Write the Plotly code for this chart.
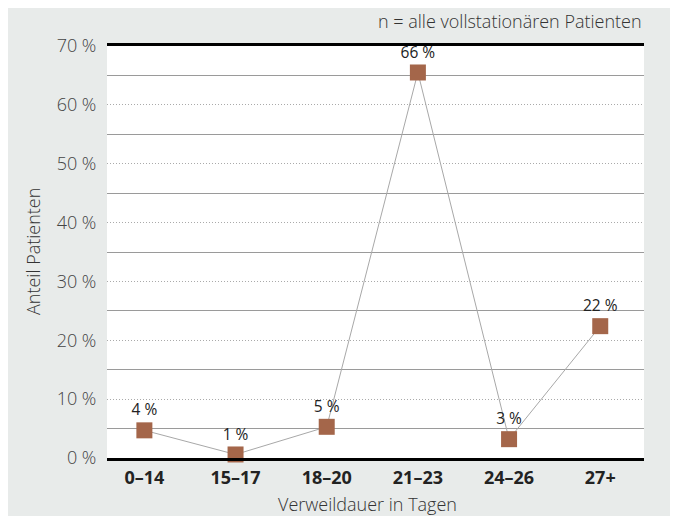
import plotly.graph_objects as go

categories = ["0–14", "15–17", "18–20", "21–23", "24–26", "27+"]
values = [4.7, 0.6, 5.3, 65.5, 3.2, 22.4]
labels = ["4 %", "1 %", "5 %", "66 %", "3 %", "22 %"]
y_ticks = [0, 10, 20, 30, 40, 50, 60, 70]
y_ticktext = [f"{v} %" for v in y_ticks]
y_minor = [5, 15, 25, 35, 45, 55, 65]

FONT = "Open Sans"

fig = go.Figure()
fig.add_trace(go.Scatter(
    x=list(range(len(categories))), y=values,
    mode="lines+markers+text",
    line=dict(color="#a8a8a8", width=1),
    marker=dict(symbol="square", size=16, color="#a4664a"),
    text=labels, textposition="top center",
    textfont=dict(family=FONT, size=15.5, color="#222222"),
    cliponaxis=False, showlegend=False,
))

fig.update_layout(
    width=678, height=516,
    paper_bgcolor="#e8ebea", plot_bgcolor="#ffffff",
    margin=dict(l=99, r=42, t=38, b=66, autoexpand=False),
    font=dict(family=FONT),
    xaxis=dict(
        range=[-0.41, 5.48], automargin=False,
        tickvals=list(range(len(categories))), ticktext=categories,
        tickfont=dict(family=FONT, size=18, color="#222222", weight="bold"),
        showgrid=False, zeroline=False,
        showline=True, mirror=True, linecolor="#000000", linewidth=3,
        ticks="outside", ticklen=1, tickcolor="rgba(0,0,0,0)",
    ),
    yaxis=dict(
        range=[0, 70], automargin=False,
        tickvals=y_ticks, ticktext=y_ticktext,
        tickfont=dict(family=FONT, size=18, color="#444444", weight=300),
        showgrid=True, gridcolor="#aaaaaa", griddash="1px,2px", gridwidth=1,
        zeroline=False, showline=False,
        ticks="outside", ticklen=6, tickcolor="rgba(0,0,0,0)",
        minor=dict(tickvals=y_minor, showgrid=True, gridcolor="#9a9a9a",
                   griddash="solid", gridwidth=1, ticks=""),
    ),
    annotations=[
        dict(text="n = alle vollstationären Patienten",
             xref="paper", yref="paper", x=1.0, y=1.0,
             xanchor="right", yanchor="bottom", yshift=11, showarrow=False,
             font=dict(family=FONT, size=18, color="#333333", weight=300)),
        dict(text="Verweildauer in Tagen",
             xref="paper", yref="paper", x=0.485, y=0,
             xanchor="center", yanchor="middle", yshift=-46, showarrow=False,
             font=dict(family=FONT, size=18, color="#333333", weight=300)),
        dict(text="Anteil Patienten", textangle=-90,
             xref="paper", yref="paper", x=0, y=0.5,
             xanchor="center", yanchor="middle", xshift=-74, showarrow=False,
             font=dict(family=FONT, size=18, color="#333333", weight=300)),
    ],
)

fig.write_html("out.html")
